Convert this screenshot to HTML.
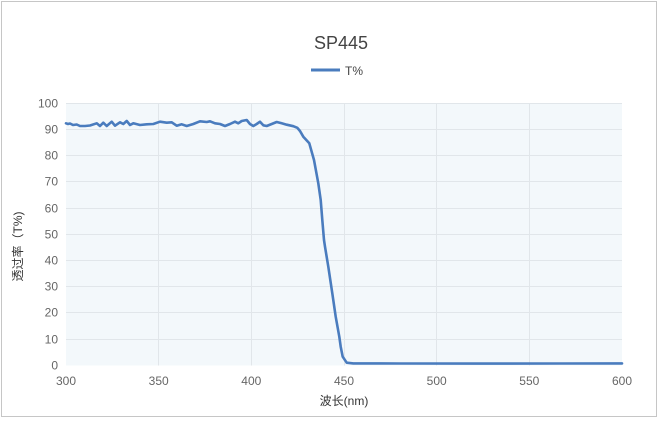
<!DOCTYPE html>
<html>
<head>
<meta charset="utf-8">
<style>
html,body{margin:0;padding:0;background:#fff;}
body{width:658px;height:426px;overflow:hidden;}
svg{display:block;font-family:"Liberation Sans","Noto Sans CJK SC",sans-serif;}
</style>
</head>
<body>
<svg width="658" height="426" viewBox="0 0 658 426" xmlns="http://www.w3.org/2000/svg">
  <rect x="1.5" y="1.5" width="655" height="415" fill="#fff" stroke="#c6c6c6" stroke-width="1"/>
  <!-- plot background -->
  <rect x="66" y="103" width="556" height="262.5" fill="#f3f8fb"/>
  <!-- horizontal grid -->
  <g stroke="#e1e6ea" stroke-width="1">
    <line x1="66" x2="622" y1="103.5" y2="103.5"/>
    <line x1="66" x2="622" y1="129.5" y2="129.5"/>
    <line x1="66" x2="622" y1="155.5" y2="155.5"/>
    <line x1="66" x2="622" y1="181.5" y2="181.5"/>
    <line x1="66" x2="622" y1="208.5" y2="208.5"/>
    <line x1="66" x2="622" y1="234.5" y2="234.5"/>
    <line x1="66" x2="622" y1="260.5" y2="260.5"/>
    <line x1="66" x2="622" y1="286.5" y2="286.5"/>
    <line x1="66" x2="622" y1="312.5" y2="312.5"/>
    <line x1="66" x2="622" y1="339.5" y2="339.5"/>
    <line x1="158.5" x2="158.5" y1="103" y2="365.5"/>
    <line x1="251.5" x2="251.5" y1="103" y2="365.5"/>
    <line x1="344.5" x2="344.5" y1="103" y2="365.5"/>
    <line x1="436.5" x2="436.5" y1="103" y2="365.5"/>
    <line x1="529.5" x2="529.5" y1="103" y2="365.5"/>
  </g>
  <!-- title -->
  <text x="341" y="49" text-anchor="middle" font-size="18" fill="#444">SP445</text>
  <!-- legend -->
  <line x1="311" x2="340" y1="70" y2="70" stroke="#4a7cbe" stroke-width="3"/>
  <text x="345" y="75" font-size="12" fill="#444">T%</text>
  <!-- y ticks -->
  <g font-size="12" fill="#666" text-anchor="end">
    <text x="58" y="107.5">100</text>
    <text x="58" y="133.5">90</text>
    <text x="58" y="159.5">80</text>
    <text x="58" y="185.5">70</text>
    <text x="58" y="212.5">60</text>
    <text x="58" y="238.5">50</text>
    <text x="58" y="264.5">40</text>
    <text x="58" y="290.5">30</text>
    <text x="58" y="316.5">20</text>
    <text x="58" y="343.5">10</text>
    <text x="58" y="369.5">0</text>
  </g>
  <!-- x ticks -->
  <g font-size="12" fill="#666" text-anchor="middle">
    <text x="66" y="385">300</text>
    <text x="158.7" y="385">350</text>
    <text x="251.3" y="385">400</text>
    <text x="344" y="385">450</text>
    <text x="436.7" y="385">500</text>
    <text x="529.3" y="385">550</text>
    <text x="622" y="385">600</text>
  </g>
  <!-- axis titles -->
  <text x="344" y="405" text-anchor="middle" font-size="12" fill="#333">波长(nm)</text>
  <text transform="translate(22,246.5) rotate(-90)" text-anchor="middle" font-size="12" fill="#333">透过率（T%)</text>
  <!-- series -->
  <polyline fill="none" stroke="#4a7cbe" stroke-width="2.6" stroke-linejoin="round" stroke-linecap="round"
    points="66,123.3 68,124 70,123.5 73,125 76.7,124.5 80,126 85,126 90,125.5 96.7,123.3 100,126 103.3,122.7 106.7,126 111.7,121.7 115,125.7 120,122.3 123.3,124 126.7,121 130,125 133.3,123.3 140,125 146.7,124.3 153.3,124 160,121.7 166.7,122.7 171.7,122.3 176.7,125.7 181.7,124.3 186.7,126 193.3,124 200,121.3 206.7,122 210,121.3 215,123.3 220,124 225,126 230,124 235,121.7 238.3,123.3 241.7,121 246.7,120 250,124 253.3,126 256.7,124 260,121.7 263.3,125.3 266.7,126 271.7,124 276.7,122 281.7,123.3 286.7,124.7 293.3,126.2 297.3,127.8 300,131 303.3,136.7 309.3,143.3 314,160 318.3,183.3 320.7,200 322.3,220 324,240 325,246.7 328.3,266.7 332.3,293.3 335.7,316.7 339.3,336.7 340.7,346.7 342.7,356.7 346.7,362.7 353.3,363.4 400,363.5 480,363.6 560,363.5 622,363.4"/>
</svg>
</body>
</html>
